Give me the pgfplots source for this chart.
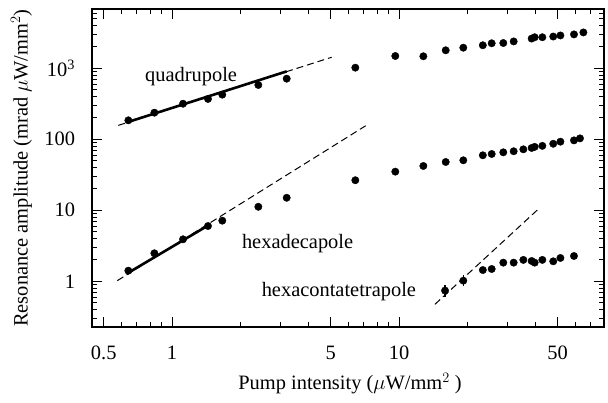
\documentclass[border=0pt]{standalone}
\usepackage{fontspec}
\setmainfont{Liberation Serif}
\usepackage{pgfplots}
\pgfplotsset{compat=1.18}
\begin{document}
\fontsize{20.5}{24}\selectfont
\begin{tikzpicture}
\useasboundingbox (0,0) rectangle (608bp,403bp);
\begin{loglogaxis}[
  at={(92bp,76bp)}, anchor=south west,
  scale only axis, width=512bp, height=318bp,
  xmin=0.444, xmax=80, ymin=0.227, ymax=6840,
  axis line style={line width=1.2bp},
  every tick/.style={black, line width=1bp},
  major tick length=10bp, minor tick length=5bp,
  tick align=inside,
  xtick={0.5,1,5,10,50},
  xticklabels={0.5,1,5,10,50},
  minor xtick={0.6,0.7,0.8,0.9,2,3,4,6,7,8,9,20,30,40,60,70},
  ytick={1,10,100,1000},
  yticklabels={1,10,100,10\textsuperscript{3}},
  minor ytick={0.3,0.4,0.5,0.6,0.7,0.8,0.9,2,3,4,5,6,7,8,9,20,30,40,50,60,70,80,90,200,300,400,500,600,700,800,900,2000,3000,4000,5000,6000},
  xticklabel style={yshift=-12bp},
  yticklabel style={xshift=-10bp},
  xlabel={Pump intensity ($\mu$W/mm$^2$ )},
  ylabel={Resonance amplitude (mrad $\mu$W/mm$^2$)},
  every axis x label/.style={at={(axis description cs:0.504,-0.198)}, anchor=base},
  every axis y label/.style={at={(axis description cs:-0.1377,0.5)}, anchor=center, rotate=90},
  clip=false,
]
% quadrupole
\addplot[only marks, mark=*, mark size=3.7bp, black] coordinates {
(0.642,185) (0.836,237) (1.118,317) (1.44,370) (1.665,425) (2.40,582) (3.20,714)
(6.42,1020) (9.63,1490) (12.8,1476) (16.06,1793) (19.2,1950) (23.4,2109) (25.6,2250)
(28.8,2270) (32.0,2390) (38.4,2620) (39.6,2737) (42.8,2737) (47.8,2800) (51.4,2900)
(59.0,3000) (64.9,3200)
};
% hexadecapole
\addplot[only marks, mark=*, mark size=3.7bp, black] coordinates {
(0.642,1.41) (0.836,2.48) (1.118,3.9) (1.44,6.0) (1.665,7.14) (2.40,11.2) (3.20,15.0)
(6.42,26.5) (9.63,35.0) (12.8,42.1) (16.06,47.9) (19.2,50.6) (23.4,59.5) (25.6,62.1)
(28.8,65.5) (32.0,67.8) (35.3,72.2) (38.4,75.5) (39.6,78.2) (42.8,80.8) (47.8,86.5)
(51.4,92.5) (59.0,96.5) (62.7,103)
};
% hexacontatetrapole
\addplot[only marks, mark=*, mark size=3.7bp, black,
  error bars/.cd, y dir=both, y explicit, error mark=none,
  error bar style={line width=1.2bp}] coordinates {
(15.95,0.74) += (0,0.155) -= (0,0.133)
(19.2,1.02) += (0,0.21) -= (0,0.16)
};
\addplot[only marks, mark=*, mark size=3.7bp, black] coordinates {
(23.4,1.44) (25.6,1.49) (28.8,1.83) (32.0,1.83) (35.3,2.0) (38.4,1.93) (39.6,1.83)
(42.8,2.0) (47.8,1.91) (51.4,2.13) (59.0,2.27)
};
% fits
\addplot[black, line width=2.6bp] coordinates {(0.632,173) (3.2,905)};
\addplot[black, line width=1bp, dash pattern=on 7bp off 4bp] coordinates {(0.58,157) (5.05,1430)};
\addplot[black, line width=2.6bp] coordinates {(0.632,1.28) (1.44,6.1)};
\addplot[black, line width=1bp, dash pattern=on 7bp off 4bp] coordinates {(0.574,1.02) (7.13,155)};
\addplot[black, line width=1bp, dash pattern=on 7bp off 4bp] coordinates {(14.4,0.474) (40.7,10.1)};
% labels
\node[anchor=base west, inner sep=0pt] at (axis cs:0.760,662) {quadrupole};
\node[anchor=base west, inner sep=0pt] at (axis cs:2.03,2.85) {hexadecapole};
\node[anchor=base west, inner sep=0pt] at (axis cs:2.48,0.607) {hexacontatetrapole};
\end{loglogaxis}
\end{tikzpicture}
\end{document}
